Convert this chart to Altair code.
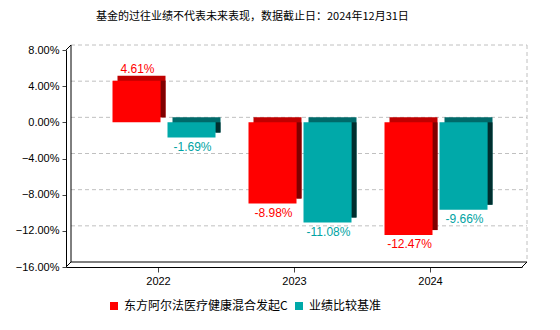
import altair as alt
import pandas as pd

YEARS = [2022, 2023, 2024]
SERIES = ["东方阿尔法医疗健康混合发起C", "业绩比较基准"]
FUND = [4.61, -8.98, -12.47]
BENCH = [-1.69, -11.08, -9.66]
Y_TICKS = [8, 4, 0, -4, -8, -12, -16]
TITLE = "基金的过往业绩不代表未来表现，数据截止日：2024年12月31日"

FRONT = ["#FF0000", "#00A9A9"]
TOPC = ["#C00000", "#006A6A"]
SIDE = ["#800000", "#002E2E"]
LABELC = ["#FF0000", "#00A3A3"]

CJK = "Noto Sans CJK SC"
LAT = "Liberation Sans"

W, H = 456, 217
D = 5
X_DOMAIN = [2021.3235, 2024.6765]
Y_DOMAIN = [-16, 8]
ppy = W / (X_DOMAIN[1] - X_DOMAIN[0])
BAR_PX = {SERIES[0]: (-45.5, 2.5), SERIES[1]: (9.5, 57.5)}

rows = []
for s, vals in zip(SERIES, [FUND, BENCH]):
    l, r = BAR_PX[s]
    for yr, v in zip(YEARS, vals):
        rows.append(dict(year=yr, series=s, value=v,
                         x0=yr + l / ppy, x1=yr + r / ppy,
                         xc=yr + (l + r) / 2 / ppy,
                         top=max(v, 0.0), bot=min(v, 0.0),
                         label=f"{v:.2f}%"))
df = pd.DataFrame(rows)

xs = alt.Scale(domain=X_DOMAIN, nice=False, zero=False)
ys = alt.Scale(domain=Y_DOMAIN, nice=False, zero=False)

XAXIS = alt.Axis(values=YEARS, format="d", grid=False, domainColor="black", tickColor="#444",
                 tickSize=5, labelPadding=3, labelFont=LAT, labelFontSize=11,
                 labelColor="black", title=None)
YAXIS = alt.Axis(values=Y_TICKS, labelExpr="format(datum.value, '.2f') + '%'", grid=False,
                 domainColor="black", tickColor="#444", tickSize=4, labelPadding=3,
                 labelFont=LAT, labelFontSize=11, labelColor="black", title=None)


def X(f):
    return alt.X(f, scale=xs, axis=XAXIS)


def Y(f):
    return alt.Y(f, scale=ys, axis=YAXIS)


def cscale(rng):
    return alt.Scale(domain=SERIES, range=rng)


# back-wall grid
grid = alt.Chart(pd.DataFrame({"v": Y_TICKS[:-1]})).mark_rule(
    color="#C0C0C0", strokeDash=[4, 3], yOffset=-D
).encode(y=Y("v:Q"), x=alt.value(D), x2=alt.value(W + D))

one = pd.DataFrame({"a": [0]})
frame_solid = [
    alt.Chart(one).mark_rule(color="black").encode(x=alt.value(D), y=alt.value(-D), y2=alt.value(H - D)),
    alt.Chart(one).mark_rule(color="black").encode(x=alt.value(D), x2=alt.value(W + D), y=alt.value(H - D)),
    alt.Chart(one).mark_rule(color="black").encode(x=alt.value(0), y=alt.value(0), x2=alt.value(D), y2=alt.value(-D)),
    alt.Chart(one).mark_rule(color="black").encode(x=alt.value(0), y=alt.value(H), x2=alt.value(D), y2=alt.value(H - D)),
    alt.Chart(one).mark_rule(color="black").encode(x=alt.value(W), y=alt.value(H), x2=alt.value(W + D), y2=alt.value(H - D)),
]
right_wall = alt.Chart(one).mark_rule(color="#C0C0C0", strokeDash=[4, 3]).encode(
    x=alt.value(W + D), y=alt.value(-D), y2=alt.value(H - D))

base = alt.Chart(df)

back = base.mark_rect(xOffset=D, x2Offset=D, yOffset=-D, y2Offset=-D).encode(
    x=X("x0:Q"), x2="x1:Q", y=Y("top:Q"), y2="bot:Q",
    color=alt.Color("series:N", scale=cscale(TOPC), legend=None),
)
side = base.mark_rect(x2Offset=D, y2Offset=-D).encode(
    x=X("x1:Q"), x2="x1:Q", y=Y("top:Q"), y2="bot:Q",
    color=alt.Color("series:N", scale=cscale(SIDE), legend=None),
)
front = base.mark_rect().encode(
    x=X("x0:Q"), x2="x1:Q", y=Y("top:Q"), y2="bot:Q",
    color=alt.Color("series:N", scale=cscale(FRONT), legend=alt.Legend(
        title=None, orient="none", legendX=42, legendY=250, direction="horizontal",
        symbolType="square", symbolSize=64, symbolStrokeWidth=0,
        labelFont=CJK, labelFontSize=12, labelColor="black", labelOffset=4,
        labelLimit=400, columnPadding=5)),
)

lab_pos = base.transform_filter("datum.value >= 0").mark_text(
    font=LAT, fontSize=12, baseline="alphabetic", dy=-8, dx=1
).encode(
    x=X("xc:Q"), y=Y("top:Q"),
    text="label:N", color=alt.Color("series:N", scale=cscale(LABELC), legend=None))
lab_neg = base.transform_filter("datum.value < 0").mark_text(
    font=LAT, fontSize=12, baseline="alphabetic", dy=13, dx=1
).encode(
    x=X("xc:Q"), y=Y("bot:Q"),
    text="label:N", color=alt.Color("series:N", scale=cscale(LABELC), legend=None))

chart = alt.layer(
    grid, right_wall, *frame_solid, back, side, front, lab_pos, lab_neg
).resolve_scale(color="independent").properties(
    width=W, height=H,
    autosize=alt.AutoSizeParams(type="none"),
    padding={"left": 66, "top": 50, "right": 38, "bottom": 63},
    background="white",
    title=alt.TitleParams(TITLE, anchor="start", frame="group", dx=30, font=CJK, fontSize=11,
                          fontWeight="normal", color="black", offset=22),
).configure_view(stroke=None)

chart.save("out.html", embed_options={"renderer": "svg", "actions": False})
